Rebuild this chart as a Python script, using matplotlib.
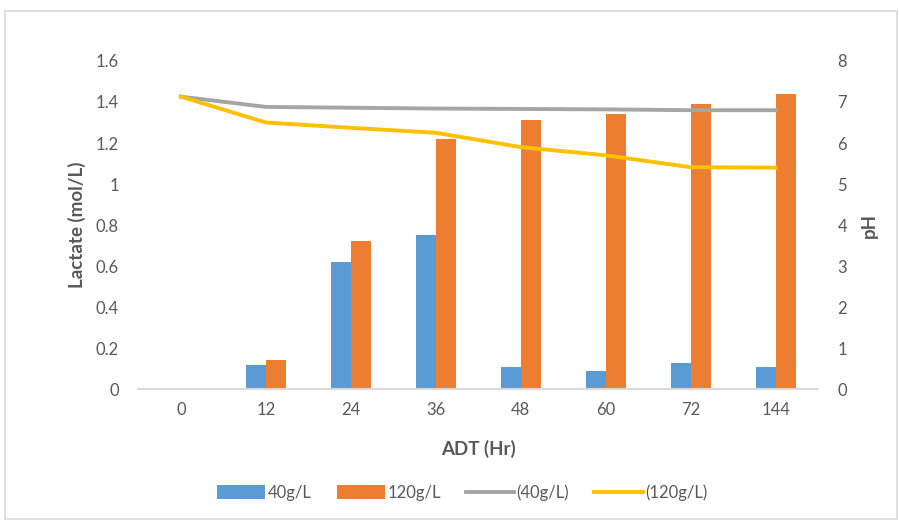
import numpy as np
import matplotlib.pyplot as plt
from matplotlib.patches import Rectangle

# data
hours = ['0', '12', '24', '36', '48', '60', '72', '144']
lactate_40 = [0, 0.12, 0.62, 0.75, 0.11, 0.09, 0.13, 0.11]
lactate_120 = [0, 0.14, 0.72, 1.22, 1.31, 1.34, 1.39, 1.44]
ph_40 = [7.13, 6.88, 6.86, 6.84, 6.83, 6.82, 6.80, 6.80]
ph_120 = [7.13, 6.50, 6.37, 6.25, 5.90, 5.70, 5.41, 5.40]

blue = '#5B9BD5'
orange = '#ED7D31'
grey = '#A5A5A5'
yellow = '#FFC000'
txt = '#595959'

plt.rcParams['font.family'] = ['Lato', 'DejaVu Sans']

fig = plt.figure(figsize=(8.99, 5.21), dpi=100)
# outer chart border like Excel
fig.patches.append(Rectangle((0.006, 0.004), 0.992, 0.974, transform=fig.transFigure,
                             fill=False, edgecolor='#D9D9D9', linewidth=1.2))

ax = fig.add_axes([0.154, 0.253, 0.756, 0.630])
x = np.arange(len(hours))
w = 0.235
ax.bar(x - w/2, lactate_40, w, color=blue, label='40g/L', zorder=2)
ax.bar(x + w/2, lactate_120, w, color=orange, label='120g/L', zorder=2)
ax.set_xlim(-0.5, len(hours) - 0.5)
ax.set_ylim(0, 1.6)
ax.set_yticks(np.arange(0, 1.61, 0.2))
ax.set_yticklabels(['0', '0.2', '0.4', '0.6', '0.8', '1', '1.2', '1.4', '1.6'])
ax.set_xticks(x)
ax.set_xticklabels(hours)

ax2 = ax.twinx()
ax2.plot(x, ph_40, color=grey, linewidth=2.8, label='(40g/L)', zorder=3)
ax2.plot(x, ph_120, color=yellow, linewidth=2.8, label='(120g/L)', zorder=3)
ax2.set_ylim(0, 8)
ax2.set_yticks(range(0, 9))

for a in (ax, ax2):
    for s in a.spines.values():
        s.set_visible(False)
    a.tick_params(length=0, labelsize=12, colors=txt)
ax.spines['bottom'].set_visible(True)
ax.spines['bottom'].set_color('#D9D9D9')
ax.spines['bottom'].set_linewidth(1.5)
ax.tick_params(axis='y', pad=14)
ax.tick_params(axis='x', pad=9)
ax2.tick_params(axis='y', pad=14)

ax.set_ylabel('Lactate (mol/L)', fontsize=13.5, fontweight='bold', color=txt, labelpad=7)
ax2.set_ylabel('pH', fontsize=13.5, fontweight='bold', color=txt, labelpad=10)
ax.set_xlabel('ADT (Hr)', fontsize=13.5, fontweight='bold', color=txt, labelpad=16)

h1, l1 = ax.get_legend_handles_labels()
h2, l2 = ax2.get_legend_handles_labels()
fig.legend(h1 + h2, l1 + l2, loc='center', bbox_to_anchor=(0.514, 0.054), ncol=4,
           frameon=False, fontsize=12, labelcolor=txt, handlelength=2.9,
           handletextpad=0.15, columnspacing=1.5, handleheight=0.9)

fig.savefig('out.png', dpi=100)
